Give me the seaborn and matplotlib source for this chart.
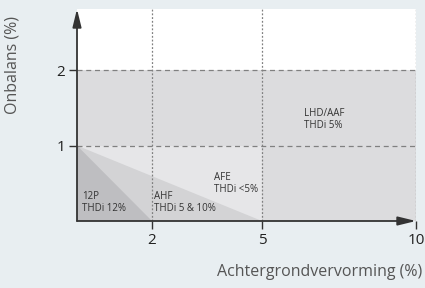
import numpy as np
import matplotlib
matplotlib.use("Agg")
import matplotlib.pyplot as plt
import seaborn as sns

# ---- data ----
regions = ["LHD/AAF", "AFE", "AHF", "12P"]
region_thdi = ["THDi 5%", "THDi <5%", "THDi 5 & 10%", "THDi 12%"]
region_max_dist = [10, 5, 5, 2]        # background distortion (%) limit
region_max_unb = [2, 1, 1, 1]          # imbalance (%) limit
region_kind = ["rect", "rect", "tri", "tri"]
region_label_x = [6.36, 3.68, 2.05, 0.13]
region_label_y = [1.50, 0.65, 0.40, 0.40]
x_ticks = [2, 5, 10]
y_ticks = [1, 2]
x_label = "Achtergrondvervorming (%)"
y_label = "Onbalans (%)"

# schematic (non-uniform) x axis
x_knots = [0, 2, 5, 10]
u_knots = [0, 75, 185, 339]

def fwd(x):
    return np.interp(x, x_knots, u_knots)

def inv(u):
    return np.interp(u, u_knots, x_knots)

sns.set_theme(style="white")
plt.rcParams["font.family"] = ["Open Sans", "DejaVu Sans"]

bg = "#e8eef1"
fig = plt.figure(figsize=(4.25, 2.88), dpi=100, facecolor=bg)
ax = fig.add_axes([77 / 425, 1 - 221 / 288, 339 / 425, 212 / 288])
ax.set_facecolor("white")
ax.set_xscale("function", functions=(fwd, inv))
ax.set_xlim(0, 10)
ax.set_ylim(0, 2.81)

fills = ["#dcdcde", "#e6e6e8", "#d3d3d5", "#bebec1"]
for name, xm, ym, kind, fc in zip(regions, region_max_dist, region_max_unb, region_kind, fills):
    if kind == "rect":
        ax.fill([0, xm, xm, 0], [0, 0, ym, ym], color=fc, lw=0, zorder=1)
    else:
        ax.fill([0, xm, 0], [0, 0, ym], color=fc, lw=0, zorder=1)

# grid
for yv in y_ticks:
    ax.plot([0, 10], [yv, yv], color="#808080", lw=0.9, ls=(0, (4, 3)), zorder=2)
for xv in x_ticks:
    ax.plot([xv, xv], [0, 2.81], color="#808080", lw=0.9, ls=(0, (1.5, 1.5)), zorder=2)

for name, thdi, lx, ly in zip(regions, region_thdi, region_label_x, region_label_y):
    ax.text(lx, ly, f"{name}\n{thdi}", fontsize=7, color="#333333", ha="left", va="top",
            linespacing=1.15, zorder=3)

# axes with arrows
for s in ax.spines.values():
    s.set_visible(False)
ax.annotate("", xy=(1.0, 0), xytext=(0, 0), xycoords="axes fraction",
            arrowprops=dict(arrowstyle="-|>,head_length=0.9,head_width=0.22", color="#333333",
                            lw=1.3, shrinkA=0, shrinkB=0), zorder=4)
ax.annotate("", xy=(0, 1.0), xytext=(0, 0), xycoords="axes fraction",
            arrowprops=dict(arrowstyle="-|>,head_length=0.9,head_width=0.22", color="#333333",
                            lw=1.3, shrinkA=0, shrinkB=0), zorder=4)

ax.set_xticks(x_ticks)
ax.set_xticklabels([str(v) for v in x_ticks])
ax.set_yticks(y_ticks)
ax.set_yticklabels([str(v) for v in y_ticks])
ax.xaxis.set_minor_locator(matplotlib.ticker.NullLocator())
ax.tick_params(axis="both", direction="out", length=5.5, width=1, color="#333333",
               labelsize=11, labelcolor="#222222", pad=3)
ax.tick_params(axis="x", bottom=True)
ax.tick_params(axis="y", left=True)

ax.set_xlabel(x_label, fontsize=11.5, color="#555555", ha="right", va="center")
ax.xaxis.set_label_coords(1.018, -0.24)
ax.set_ylabel(y_label, fontsize=11.5, color="#555555", ha="center", va="center")
ax.yaxis.set_label_coords(-0.19, 0.736)

fig.savefig("out.png", dpi=100, facecolor=bg)
